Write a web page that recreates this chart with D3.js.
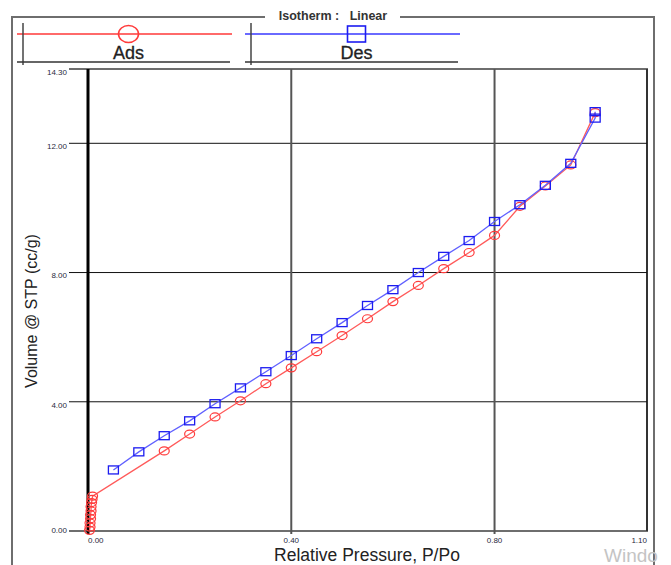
<!DOCTYPE html>
<html>
<head>
<meta charset="utf-8">
<script src="https://cdn.jsdelivr.net/npm/d3@7"></script>
<style>
  body { margin: 0; background: #fff; }
  svg { display: block; font-family: "Liberation Sans", Arial, sans-serif; }
</style>
</head>
<body>
<svg id="chart" width="671" height="565"></svg>
<script>
// adsorption branch (red circles)
let adsX = [0.003, 0.004, 0.004, 0.005, 0.005, 0.006, 0.006, 0.007, 0.008, 0.009,
            0.15, 0.20, 0.25, 0.30, 0.35, 0.40, 0.45, 0.50, 0.55, 0.60, 0.65, 0.70,
            0.75, 0.80, 0.85, 0.90, 0.95, 0.998];
let adsY = [0.02, 0.12, 0.25, 0.38, 0.50, 0.62, 0.75, 0.88, 0.98, 1.08,
            2.48, 3.00, 3.53, 4.03, 4.56, 5.05, 5.55, 6.05, 6.57, 7.10, 7.60, 8.12,
            8.62, 9.15, 10.05, 10.68, 11.33, 12.95];
// desorption branch (blue squares)
let desX = [0.998, 0.998, 0.95, 0.90, 0.85, 0.80, 0.75, 0.70, 0.65, 0.60, 0.55,
            0.50, 0.45, 0.40, 0.35, 0.30, 0.25, 0.20, 0.15, 0.10, 0.05];
let desY = [12.98, 12.78, 11.38, 10.70, 10.10, 9.58, 8.99, 8.50, 8.00, 7.47, 6.98,
            6.45, 5.95, 5.43, 4.93, 4.43, 3.94, 3.41, 2.95, 2.45, 1.89];

let xTicks = [0, 0.4, 0.8, 1.1];
let yTicks = [0, 4, 8, 12, 14.3];
let seriesNames = ["Ads", "Des"];

let adsColor = "#ff3b3b", adsLine = "#ff5a5a";
let desColor = "#1c1cf0", desLine = "#6060ff";

let svg = d3.select("#chart");

let x = d3.scaleLinear().domain([0, 1.1]).range([88, 647]);
let y = d3.scaleLinear().domain([0, 14.3]).range([531, 69]);

// outer box with title
svg.append("path")
  .attr("d", "M 12 565 L 12 17 L 265 17 M 400 17 L 654 17 L 654 565")
  .attr("fill", "none")
  .attr("stroke", "#6e6e6e")
  .attr("stroke-width", 2);
svg.append("text")
  .attr("x", 333).attr("y", 16)
  .attr("dy", "0.35em")
  .attr("text-anchor", "middle")
  .style("font-size", "12.5px").style("font-weight", "bold")
  .style("fill", "#333")
  .text("Isotherm :\u00a0\u00a0\u00a0Linear");

// legend
let legendX = [[17, 232], [245, 460]];
seriesNames.forEach(function(name, i) {
  let g = svg.append("g");
  let x0 = legendX[i][0], x1 = legendX[i][1];
  let cx = (x0 + x1) / 2 + 4;
  g.append("line").attr("x1", x0).attr("x2", x1).attr("y1", 34).attr("y2", 34)
    .attr("stroke", i == 0 ? "#ff6a6a" : "#6a6aff").attr("stroke-width", 2);
  g.append("line").attr("x1", x0 + 6).attr("x2", x0 + 6).attr("y1", 23).attr("y2", 65)
    .attr("stroke", "#444").attr("stroke-width", 1.5);
  g.append("line").attr("x1", x0).attr("x2", x1 - 2).attr("y1", 62).attr("y2", 62)
    .attr("stroke", "#333").attr("stroke-width", 1.5);
  if (i == 0) {
    g.append("ellipse").attr("cx", cx).attr("cy", 34).attr("rx", 10).attr("ry", 8.5)
      .attr("fill", "none").attr("stroke", adsColor).attr("stroke-width", 1.6);
  } else {
    g.append("rect").attr("x", cx - 9).attr("y", 26).attr("width", 18).attr("height", 16)
      .attr("fill", "none").attr("stroke", desColor).attr("stroke-width", 1.6);
  }
  g.append("text").attr("x", cx).attr("y", 53).attr("dy", "0.35em")
    .attr("text-anchor", "middle")
    .style("font-size", "18px").style("fill", "#222")
    .style("stroke", "#222").style("stroke-width", 0.3)
    .text(name);
});

// plot frame
svg.append("line").attr("x1", 69).attr("x2", 648).attr("y1", y(14.3)).attr("y2", y(14.3))
  .attr("stroke", "#6e6e6e").attr("stroke-width", 2);
svg.append("line").attr("x1", 69).attr("x2", 648).attr("y1", y(0)).attr("y2", y(0))
  .attr("stroke", "#6e6e6e").attr("stroke-width", 2);
svg.append("line").attr("x1", 647).attr("x2", 647).attr("y1", y(14.3)).attr("y2", y(0))
  .attr("stroke", "#333").attr("stroke-width", 2);

// horizontal gridlines
svg.selectAll(".hgrid")
  .data(yTicks.filter(d => d > 0 && d < 14.3))
  .enter().append("line")
  .attr("class", "hgrid")
  .attr("x1", 69).attr("x2", 647)
  .attr("y1", d => y(d)).attr("y2", d => y(d))
  .attr("stroke", "#111").attr("stroke-width", 1);

// vertical gridlines
svg.selectAll(".vgrid")
  .data(xTicks.filter(d => d > 0 && d < 1.1))
  .enter().append("line")
  .attr("class", "vgrid")
  .attr("x1", d => x(d)).attr("x2", d => x(d))
  .attr("y1", y(14.3)).attr("y2", y(0) + 3)
  .attr("stroke", "#555").attr("stroke-width", 2);

// y axis line at x = 0
svg.append("line").attr("x1", x(0)).attr("x2", x(0)).attr("y1", y(14.3)).attr("y2", y(0) + 3)
  .attr("stroke", "#000").attr("stroke-width", 3);

// y tick labels
svg.selectAll(".ylab")
  .data(yTicks)
  .enter().append("text")
  .attr("class", "ylab")
  .attr("x", 67)
  .attr("y", d => d == 0 ? y(d) - 1 : y(d) + 3)
  .attr("dy", "0.35em")
  .attr("text-anchor", "end")
  .style("font-size", "8px")
  .style("fill", "#2a2a40")
  .text(d => d.toFixed(2));

// x tick labels
svg.selectAll(".xlab")
  .data(xTicks)
  .enter().append("text")
  .attr("class", "xlab")
  .attr("x", d => x(d))
  .attr("y", 540)
  .attr("dy", "0.35em")
  .attr("text-anchor", (d, i) => i == 0 ? "start" : (i == xTicks.length - 1 ? "end" : "middle"))
  .style("font-size", "8px")
  .style("fill", "#2a2a40")
  .text(d => d.toFixed(2));

// axis titles
svg.append("text")
  .attr("transform", "translate(31,311) rotate(-90)")
  .attr("text-anchor", "middle")
  .attr("dy", "0.35em")
  .style("font-size", "16px")
  .style("fill", "#222")
  .text("Volume @ STP (cc/g)");
svg.append("text")
  .attr("x", 367).attr("y", 555)
  .attr("dy", "0.35em")
  .attr("text-anchor", "middle")
  .style("font-size", "17.5px")
  .style("fill", "#222")
  .text("Relative Pressure, P/Po");

// series
let ads = adsX.map((v, i) => [v, adsY[i]]);
let des = desX.map((v, i) => [v, desY[i]]);
let line = d3.line().x(d => x(d[0])).y(d => y(d[1]));

svg.append("path").datum(ads).attr("d", line)
  .attr("fill", "none").attr("stroke", adsLine).attr("stroke-width", 1.3);
svg.selectAll(".adsPt").data(ads).enter().append("ellipse")
  .attr("class", "adsPt")
  .attr("cx", d => x(d[0])).attr("cy", d => y(d[1]))
  .attr("rx", 5).attr("ry", 4)
  .attr("fill", "none").attr("stroke", adsColor).attr("stroke-width", 1.2);

svg.append("path").datum(des).attr("d", line)
  .attr("fill", "none").attr("stroke", desLine).attr("stroke-width", 1.3);
svg.selectAll(".desPt").data(des).enter().append("rect")
  .attr("class", "desPt")
  .attr("x", d => x(d[0]) - 5).attr("y", d => y(d[1]) - 4)
  .attr("width", 10).attr("height", 8)
  .attr("fill", "none").attr("stroke", desColor).attr("stroke-width", 1.3);

// watermark remnant
svg.append("text")
  .attr("x", 604).attr("y", 555)
  .attr("dy", "0.35em")
  .style("font-size", "19px")
  .style("fill", "#c4c4c4")
  .text("Windo");
</script>
</body>
</html>
